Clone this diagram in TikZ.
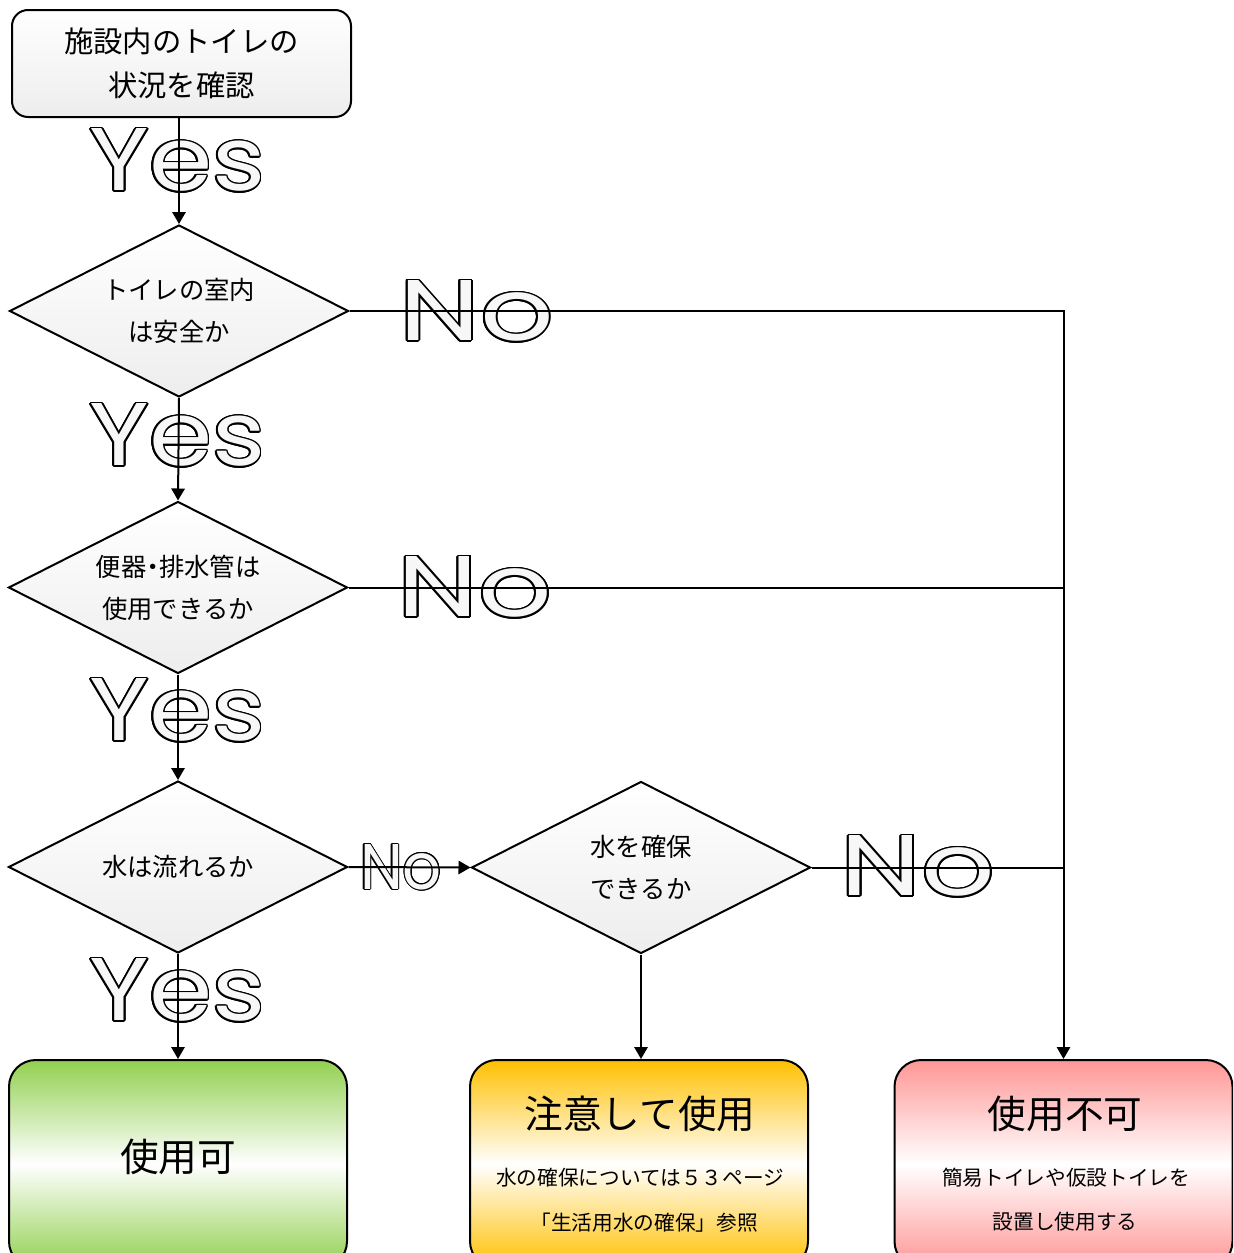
\documentclass[tikz,border=0pt]{standalone}
\usepackage{fontspec}
\usepackage{graphicx}
\usepackage{contour}
\setmainfont{Noto Sans CJK JP}
\newfontfamily\tightfont{Noto Sans CJK JP}[RawFeature=+palt]
\newfontfamily\answerfont{Poppins}
\usetikzlibrary{shapes.geometric,arrows.meta}

\definecolor{answerfill}{gray}{0.97}
\definecolor{okgreen}{RGB}{146,208,80}
\definecolor{cautionorange}{RGB}{255,192,0}
\definecolor{ngpink}{RGB}{255,150,150}

\contourlength{1.1pt}
% hollow (outlined) lettering for the Yes / No answers, sized to a given box
\newcommand\hollowword[3]{\resizebox{#1}{#2}{\answerfont\fontsize{66}{66}\selectfont\contour{black}{\textcolor{answerfill}{#3}}}}

\tikzset{
  link/.style={line width=1.5pt},
  flow/.style={line width=1.5pt,-{Triangle[length=9pt,width=10pt]}},
  startbox/.style={draw,line width=1.5pt,rounded corners=12pt,top color=white,bottom color=gray!14,
    minimum width=254.25pt,minimum height=80.25pt,inner sep=0pt,align=center,
    font=\fontsize{22}{33}\selectfont},
  decision/.style={diamond,aspect=1.97,draw,line width=1.5pt,top color=white,bottom color=gray!14,
    minimum width=254.25pt,minimum height=129pt,inner sep=0pt,align=center,
    font=\fontsize{19}{31.5}\selectfont},
  result/.style={draw,line width=1.5pt,rounded corners=20pt,minimum width=253.5pt,
    minimum height=156pt,inner sep=0pt},
  headline/.style={inner sep=0pt,font=\fontsize{29}{29}\selectfont},
  note/.style={inner sep=0pt,font=\fontsize{15.5}{15.5}\selectfont},
  answer/.style={inner sep=0pt}
}

\begin{document}
\begin{tikzpicture}[x=0.75pt,y=-0.75pt]
\useasboundingbox (0,0) rectangle (1233,1253);
\clip (0,0) rectangle (1233,1253);

% start box and decisions
\node[startbox] (top) at (181.5,63.5) {施設内のトイレの\\状況を確認};
\node[decision] (d1) at (179,311) {トイレの室内\\は安全か};
\node[decision] (d2) at (178,587.5) {{\tightfont 便器・排水管は}\\使用できるか};
\node[decision] (d3) at (178,867) {水は流れるか};
\node[decision] (d4) at (641,867.5) {水を確保\\できるか};

% outcomes
\node[result,top color=okgreen,bottom color=okgreen,middle color=white] (ok) at (178,1164) {};
\node[result,top color=cautionorange,bottom color=cautionorange,middle color=white] (care) at (639,1164) {};
\node[result,top color=ngpink,bottom color=ngpink,middle color=white] (ng) at (1063.5,1164) {};

\node[headline] (oktxt) at (178,1157) {使用可};
\node[headline] (caretitle) at (640,1114) {注意して使用};
\node[note] (careline1) at (640,1178) {水の確保については５３ページ};
\node[note] (careline2) at (644,1223) {「生活用水の確保」参照};
\node[headline] (ngtitle) at (1065,1114) {使用不可};
\node[note] (ngline1) at (1066,1178) {簡易トイレや仮設トイレを};
\node[note] (ngline2) at (1065,1222) {設置し使用する};

% answers on the connectors
\node[answer] (yes1) at (177.5,161) {\hollowword{132pt}{46.5pt}{Yes}};
\node[answer] (yes2) at (177.5,436) {\hollowword{132pt}{46.5pt}{Yes}};
\node[answer] (yes3) at (177.5,711) {\hollowword{132pt}{46.5pt}{Yes}};
\node[answer] (yes4) at (177.5,991) {\hollowword{132pt}{46.5pt}{Yes}};
\node[answer] (no1) at (476.5,312) {\hollowword{116pt}{45pt}{No}};
\node[answer] (no2) at (475,588) {\hollowword{116pt}{45pt}{No}};
\node[answer] (no3) at (401,867.5) {\hollowword{61.5pt}{33.75pt}{No}};
\node[answer] (no4) at (918,867) {\hollowword{116pt}{45pt}{No}};

% connectors
\coordinate (j1) at (ng.north |- d1.east);
\draw[flow] (top.south -| d1.north) -- (d1.north);
\draw[flow] (d1.south) -- (d2.north);
\draw[flow] (d2.south) -- (d3.north);
\draw[flow] (d3.south) -- (ok.north);
\draw[flow] (d3.east) -- (d4.west);
\draw[flow] (d4.south) -- (d4.south |- care.north);
\draw[flow] (d1.east) -- (j1) -- (ng.north);
\draw[link] (d2.east) -- (d2.east -| j1);
\draw[link] (d4.east) -- (d4.east -| j1);
\end{tikzpicture}
\end{document}
